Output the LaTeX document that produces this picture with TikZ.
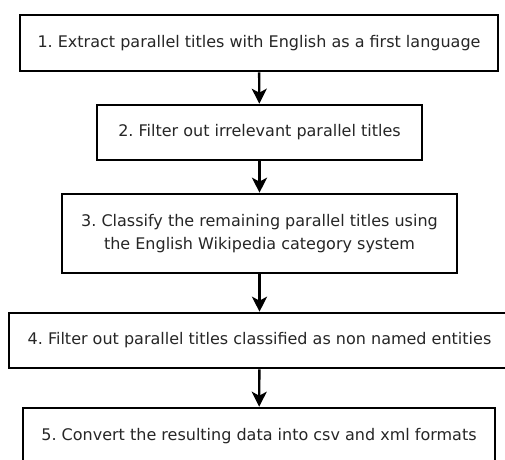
\documentclass[tikz,border=0pt]{standalone}
\usepackage{fontspec}
\setmainfont{DejaVu Sans}
\usetikzlibrary{arrows.meta}
\frenchspacing
\begin{document}
\begin{tikzpicture}[x=1pt, y=-1pt,
		stepbox/.style = {rectangle, draw=black, line width=2.6pt, fill=white, align=center,
			font=\fontsize{16}{23}\selectfont, text=black!85, inner sep=0pt},
		flow/.style = {line width=2.4pt, -{Stealth[length=15pt, width=15pt, inset=4pt]}}]
		\clip (0,0) rectangle (505,459);
		\node (s1) at (259,43) [stepbox, minimum width=478pt, minimum height=56pt] {1. Extract parallel titles with English as a first language};
		\node (s2) at (259.5,132.5) [stepbox, minimum width=325pt, minimum height=55pt] {2. Filter out irrelevant parallel titles};
		\node (s3) at (259.5,233.5) [stepbox, minimum width=395pt, minimum height=79pt] {3. Classify the remaining parallel titles using\\the English Wikipedia category system};
		\node (s4) at (259.5,340.5) [stepbox, minimum width=501pt, minimum height=55pt] {4. Filter out parallel titles classified as non named entities};
		\node (s5) at (259,436) [stepbox, minimum width=472pt, minimum height=56pt] {5. Convert the resulting data into csv and xml formats};
		\draw[flow] (s1) -- (s2);
		\draw[flow] (s2) -- (s3);
		\draw[flow] (s3) -- (s4);
		\draw[flow] (s4) -- (s5);
	\end{tikzpicture}
\end{document}
